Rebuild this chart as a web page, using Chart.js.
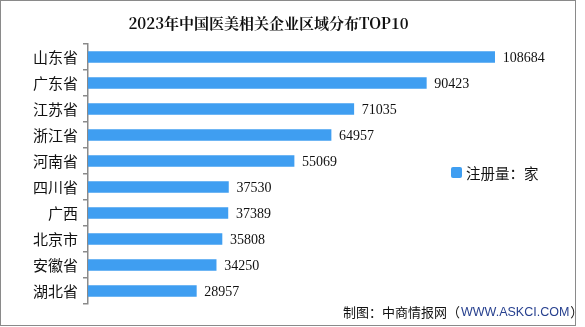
<!DOCTYPE html>
<html>
<head>
<meta charset="utf-8">
<script src="https://cdn.jsdelivr.net/npm/chart.js@4"></script>
<style>
  html, body { margin: 0; padding: 0; background: #fff; }
  #wrap { position: relative; width: 585px; height: 327px; }
  #frame { position: absolute; left: 0; top: 0; width: 574px; height: 324px; border: 1.5px solid #8a8a8a; pointer-events: none; }
</style>
</head>
<body>
<div id="wrap">
  <canvas id="c" width="585" height="327"></canvas>
  <div id="frame"></div>
</div>
<script>
// 2023年中国医美相关企业区域分布TOP10（注册量：家）
const titleText = '2023年中国医美相关企业区域分布TOP10';
const regions = ['山东省', '广东省', '江苏省', '浙江省', '河南省', '四川省', '广西', '北京市', '安徽省', '湖北省'];
const registrations = [108684, 90423, 71035, 64957, 55069, 37530, 37389, 35808, 34250, 28957];
const seriesLabel = '注册量：家';
const sourcePrefix = '制图：中商情报网（';
const sourceSite = 'WWW.ASKCI.COM';
const sourceSuffix = '）';

const BAR_COLOR = '#3f9ef1';
const CJK = "'Noto Sans CJK SC', 'Noto Sans', sans-serif";

// value labels at the end of each bar, legend entry and source line
const annotate = {
  id: 'annotate',
  afterDatasetsDraw(chart) {
    const ctx = chart.ctx;
    const meta = chart.getDatasetMeta(0);
    ctx.save();
    ctx.fillStyle = '#111';
    ctx.font = "14px 'Liberation Serif', serif";
    ctx.textAlign = 'left';
    ctx.textBaseline = 'middle';
    meta.data.forEach((bar, i) => {
      ctx.fillText(String(chart.data.datasets[0].data[i]), bar.x + 8, bar.y + 1);
    });

    // legend
    ctx.fillStyle = BAR_COLOR;
    ctx.beginPath();
    ctx.roundRect(451, 167, 11, 11, 2);
    ctx.fill();
    ctx.fillStyle = '#111';
    ctx.font = '14.5px ' + CJK;
    ctx.fillText(chart.data.datasets[0].label, 466, 173);

    // source line
    ctx.font = '13px ' + CJK;
    ctx.textAlign = 'left';
    let x = 343;
    const y = 312;
    ctx.fillStyle = '#111';
    ctx.fillText(sourcePrefix, x, y);
    x += ctx.measureText(sourcePrefix).width;
    ctx.font = "12.5px 'Liberation Sans', sans-serif";
    ctx.fillStyle = '#27408f';
    ctx.fillText(sourceSite, x + 1, y + 0.5);
    x += ctx.measureText(sourceSite).width + 2;
    ctx.font = '13px ' + CJK;
    ctx.fillStyle = '#111';
    ctx.fillText(sourceSuffix, x, y);
    ctx.restore();
  }
};

new Chart(document.getElementById('c'), {
  type: 'bar',
  data: {
    labels: regions,
    datasets: [{
      label: seriesLabel,
      data: registrations,
      backgroundColor: BAR_COLOR,
      borderWidth: 0,
      barThickness: 11
    }]
  },
  options: {
    indexAxis: 'y',
    responsive: false,
    animation: false,
    events: [],
    layout: { padding: { left: 0, right: 48, top: 0, bottom: 23 } },
    scales: {
      x: {
        display: false,
        min: 0,
        max: 120000
      },
      y: {
        offset: true,
        afterFit(scale) { scale.width = 88; },
        grid: {
          offset: true,
          drawOnChartArea: false,
          drawTicks: true,
          tickLength: 5,
          color: '#8a8a8a',
          lineWidth: 1.5
        },
        border: { display: true, color: '#8a8a8a', width: 1.5 },
        ticks: {
          color: '#111',
          padding: 5,
          font: { family: CJK, size: 15 }
        }
      }
    },
    plugins: {
      legend: { display: false },
      tooltip: { enabled: false },
      title: {
        display: true,
        text: titleText,
        color: '#111',
        font: { family: "'Noto Serif CJK SC', " + CJK, size: 15, weight: 'bold' },
        padding: { top: 14, bottom: 12 }
      }
    }
  },
  plugins: [annotate]
});
</script>
</body>
</html>
